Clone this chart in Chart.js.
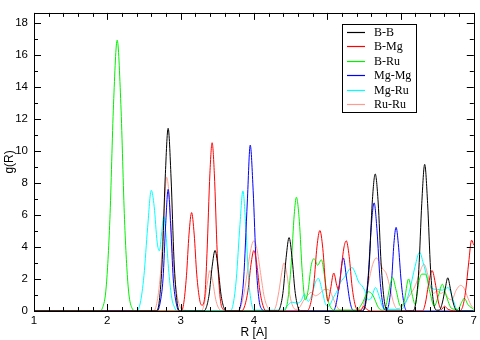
<!DOCTYPE html>
<html>
<head>
<meta charset="utf-8">
<script src="https://cdn.jsdelivr.net/npm/chart.js@4/dist/chart.umd.min.js"></script>
<style>
  html, body { margin: 0; padding: 0; background: #fff; }
  #wrap { width: 480px; height: 340px; }
</style>
</head>
<body>
<div id="wrap"><canvas id="gr" width="480" height="340"></canvas></div>
<script>
// g(R) curves (R in A, g dimensionless)
const bbR = [1.0, 2.67, 2.71, 2.75, 2.79, 2.83, 2.87, 2.91, 2.95, 2.99,
  3.31, 3.35, 3.39, 3.43, 3.47, 3.51, 3.55, 3.59, 3.63,
  4.32, 4.36, 4.40, 4.44, 4.48, 4.52, 4.56, 4.60, 4.64,
  5.48, 5.53, 5.575, 5.615, 5.655, 5.695, 5.735, 5.78, 5.83,
  6.16, 6.21, 6.25, 6.29, 6.33, 6.37, 6.41, 6.45, 6.50,
  6.53, 6.57, 6.61, 6.645, 6.68, 6.72, 6.76, 6.80, 7.0];
const bbG = [0, 0, 0.64, 3.2, 8.3, 11.4, 8.3, 3.2, 0.64, 0,
  0, 0.21, 1.06, 2.76, 3.78, 2.76, 1.06, 0.21, 0,
  0, 0.26, 1.28, 3.34, 4.58, 3.34, 1.28, 0.26, 0,
  0, 0.6, 3.0, 6.8, 8.55, 6.8, 3.0, 0.6, 0,
  0, 0.55, 2.6, 6.7, 9.15, 6.7, 2.6, 0.55, 0.05,
  0.05, 0.5, 1.4, 2.07, 1.4, 0.5, 0.05, 0, 0];

const bmgR = [1.0, 3.0, 3.04, 3.08, 3.115, 3.15, 3.185, 3.22, 3.26, 3.29, 3.33, 3.36, 3.40, 3.43, 3.46, 3.50, 3.54, 3.58, 3.62,
  3.83, 3.87, 3.92, 3.96, 4.0, 4.04, 4.08, 4.13, 4.17,
  4.72, 4.77, 4.82, 4.86, 4.90, 4.94, 4.98, 5.01, 5.04, 5.09, 5.13, 5.155, 5.19, 5.23, 5.26, 5.30, 5.34, 5.38, 5.42, 5.46, 5.50, 5.54, 5.60,
  6.30, 6.34, 6.38, 6.43, 6.48, 6.52, 6.56, 6.60, 6.65, 6.80, 6.85, 6.89, 6.93, 6.97, 7.0];
const bmgG = [0, 0, 0.4, 2.2, 4.8, 6.14, 4.8, 2.3, 0.7, 0.36, 0.9, 3.6, 8.6, 10.5, 8.6, 3.6, 0.8, 0.1, 0,
  0, 0.25, 1.3, 2.9, 3.78, 2.9, 1.3, 0.25, 0,
  0, 0.4, 1.8, 4.0, 5.02, 3.9, 1.5, 0.6, 1.2, 2.37, 1.6, 1.3, 2.6, 4.0, 4.38, 3.4, 1.5, 0.4, 0.05, 0.05, 0.3, 0.1, 0,
  0, 0.5, 1.6, 2.53, 1.6, 0.5, 0.1, 0.3, 0.1, 0, 0.3, 1.3, 3.0, 4.42, 4.1];

const bruR = [1.0, 1.89, 1.935, 1.985, 2.035, 2.085, 2.135, 2.185, 2.235, 2.285, 2.335, 2.39,
  4.40, 4.46, 4.51, 4.55, 4.58, 4.62, 4.66, 4.70, 4.74, 4.78, 4.82, 4.87, 4.92, 4.96, 5.00, 5.05, 5.10,
  5.40, 5.48, 5.56, 5.62, 5.70, 5.75, 5.80, 5.85, 5.89, 5.94, 6.00, 6.05, 6.11, 6.16, 6.20, 6.25, 6.29, 6.34, 6.40, 6.46, 6.52, 6.57, 6.62, 6.70, 6.78, 6.84, 6.87, 6.92, 7.0];
const bruG = [0, 0, 0.2, 1.5, 5.7, 12.9, 16.9, 12.9, 5.7, 1.5, 0.2, 0,
  0, 0.6, 3.0, 6.0, 7.1, 5.6, 2.4, 0.7, 1.3, 2.8, 3.27, 2.85, 3.2, 2.3, 0.9, 0.2, 0.05,
  0.05, 0.5, 1.2, 1.0, 0.2, 0.05, 0.3, 1.4, 2.1, 1.3, 0.3, 0.6, 2.0, 1.0, 0.4, 1.8, 2.3, 2.3, 1.2, 0.3, 1.0, 1.67, 1.0, 0.15, 0.1, 0.6, 0.8, 0.4, 0.1];

const mgmgR = [1.0, 2.68, 2.72, 2.76, 2.795, 2.83, 2.865, 2.90, 2.94, 2.98,
  3.78, 3.82, 3.86, 3.91, 3.95, 3.99, 4.03, 4.07, 4.11, 4.15,
  5.08, 5.12, 5.17, 5.22, 5.265, 5.31, 5.35, 5.40,
  5.48, 5.52, 5.56, 5.60, 5.64, 5.68, 5.72, 5.76, 5.80, 5.84, 5.88, 5.91, 5.94, 5.97, 6.01, 6.05, 6.09, 7.0];
const mgmgG = [0, 0, 0.5, 2.0, 5.3, 7.59, 5.3, 2.0, 0.5, 0,
  0, 0.4, 2.0, 6.8, 10.35, 7.5, 3.0, 0.7, 0.1, 0,
  0, 0.4, 1.8, 3.31, 2.0, 0.6, 0.05, 0,
  0, 0.5, 2.2, 5.2, 6.75, 5.0, 2.0, 0.4, 0.05, 0.4, 2.0, 4.2, 5.22, 4.2, 1.8, 0.4, 0, 0];

const mgruR = [1.0, 2.40, 2.45, 2.50, 2.55, 2.60, 2.64, 2.68, 2.71, 2.74, 2.77, 2.80, 2.84, 2.88, 2.92, 2.95,
  3.68, 3.72, 3.76, 3.81, 3.85, 3.89, 3.93, 3.97, 4.01,
  4.40, 4.45, 4.52, 4.58, 4.64, 4.69, 4.74, 4.79, 4.84, 4.88, 4.93, 4.98, 5.02, 5.08, 5.14, 5.18, 5.25, 5.31, 5.34, 5.38, 5.43, 5.47, 5.51, 5.56, 5.60, 5.66, 5.71, 5.76, 5.80,
  6.00, 6.05, 6.12, 6.20, 6.26, 6.31, 6.37, 6.43, 6.50, 6.57, 6.65, 6.71, 6.77, 6.85, 7.0];
const mgruG = [0, 0, 0.5, 2.2, 5.2, 7.53, 6.5, 4.3, 3.75, 4.8, 5.9, 4.8, 2.4, 0.8, 0.2, 0,
  0, 0.5, 2.0, 5.4, 7.49, 5.2, 1.9, 0.4, 0.05,
  0.05, 0.3, 0.55, 0.5, 0.6, 1.05, 0.6, 1.0, 1.8, 2.03, 1.3, 0.4, 0.3, 0.8, 1.3, 1.77, 2.2, 2.65, 2.71, 2.4, 1.8, 1.6, 1.3, 0.7, 0.8, 1.46, 0.9, 0.2, 0.1,
  0.1, 0.3, 1.2, 2.8, 3.67, 3.0, 2.0, 1.4, 1.35, 1.3, 1.46, 0.8, 0.1, 0, 0];

const ruruR = [1.0, 2.63, 2.68, 2.73, 2.77, 2.81, 2.85, 2.89, 2.94, 2.99, 3.04,
  3.28, 3.32, 3.36, 3.40, 3.44, 3.48, 3.53, 3.58,
  3.78, 3.83, 3.88, 3.93, 3.97, 4.0, 4.04, 4.09, 4.14, 4.19, 4.24,
  4.26, 4.30, 4.34, 4.38, 4.41, 4.45, 4.49, 4.53, 4.57, 4.62, 4.67, 4.72, 4.78, 4.84, 4.90, 4.97, 5.03, 5.08, 5.13, 5.18,
  5.45, 5.50, 5.56, 5.62, 5.67, 5.72, 5.76, 5.80, 5.85, 5.90, 5.95, 6.00, 6.06, 6.11, 6.17, 6.22, 6.27, 6.32, 6.37, 6.41, 6.45, 6.50, 6.55, 6.60, 6.65, 6.70, 6.76, 6.82, 6.87, 6.92, 6.97, 7.0];
const ruruG = [0, 0, 0.6, 2.6, 5.8, 8.35, 6.8, 3.6, 1.3, 0.3, 0.05,
  0, 0.4, 1.6, 2.53, 1.8, 0.7, 0.1, 0,
  0, 0.4, 1.5, 3.1, 4.1, 4.38, 3.9, 2.4, 0.9, 0.2, 0,
  0, 0.3, 1.2, 2.4, 3.0, 2.3, 1.0, 0.3, 0.1, 0.2, 0.6, 0.9, 1.16, 0.95, 1.1, 1.35, 1.3, 0.8, 0.3, 0.05,
  0.05, 0.5, 1.7, 2.9, 3.31, 3.0, 2.6, 2.4, 1.6, 0.6, 0.15, 0.2, 0.5, 0.86, 1.3, 1.8, 2.5, 2.92, 2.3, 1.5, 1.1, 1.25, 1.1, 1.2, 0.8, 0.7, 1.3, 1.6, 1.4, 0.8, 0.3, 0.2];

const seriesNames = ['B-B', 'B-Mg', 'B-Ru', 'Mg-Mg', 'Mg-Ru', 'Ru-Ru'];
const seriesColors = ['#000000', '#ff0000', '#00f000', '#0000ff', '#00ffff', '#ff9c90'];
const seriesR = [bbR, bmgR, bruR, mgmgR, mgruR, ruruR];
const seriesG = [bbG, bmgG, bruG, mgmgG, mgruG, ruruG];

const xTicks = [1, 2, 3, 4, 5, 6, 7];
const yTicks = [0, 2, 4, 6, 8, 10, 12, 14, 16, 18];

const tickFont = { family: '"Liberation Sans", Arial, sans-serif', size: 11.5 };
const titleFont = { family: '"Liberation Sans", Arial, sans-serif', size: 12 };

// grace-style frame with inward major/minor ticks on all sides, plus the boxed legend
const frameTicks = {
  id: 'frameTicks',
  afterDatasetsDraw(chart) {
    const { ctx, chartArea: a, scales: { x, y } } = chart;
    ctx.save();
    ctx.strokeStyle = '#000';
    ctx.lineWidth = 1;
    ctx.beginPath();
    for (let v = 1; v <= 7.0001; v += 0.2) {
      const px = Math.round(x.getPixelForValue(v)) + 0.5;
      const major = Math.abs(v - Math.round(v)) < 0.01;
      const len = major ? 7 : 4;
      ctx.moveTo(px, a.bottom); ctx.lineTo(px, a.bottom - len);
      ctx.moveTo(px, a.top); ctx.lineTo(px, a.top + len);
    }
    for (let v = 0; v <= 18; v += 1) {
      const py = Math.round(y.getPixelForValue(v)) + 0.5;
      const len = v % 2 === 0 ? 7 : 4;
      ctx.moveTo(a.left, py); ctx.lineTo(a.left + len, py);
      ctx.moveTo(a.right, py); ctx.lineTo(a.right - len, py);
    }
    ctx.stroke();
    ctx.strokeRect(Math.round(a.left) + 0.5, Math.round(a.top) + 0.5,
      Math.round(a.right - a.left), Math.round(a.bottom - a.top));

    const bx = 342, by = 24, bw = 74, bh = 88;
    ctx.fillStyle = '#fff';
    ctx.fillRect(bx, by, bw, bh);
    ctx.strokeStyle = '#000';
    ctx.strokeRect(bx + 0.5, by + 0.5, bw, bh);
    ctx.font = '12px "Liberation Serif", "Times New Roman", serif';
    ctx.textBaseline = 'middle';
    for (let i = 0; i < seriesNames.length; i++) {
      const ly = Math.round(by + 8 + i * 14.4) + 0.5;
      ctx.beginPath();
      ctx.strokeStyle = seriesColors[i];
      ctx.lineWidth = 1.2;
      ctx.moveTo(bx + 5, ly);
      ctx.lineTo(bx + 23, ly);
      ctx.stroke();
      ctx.fillStyle = '#000';
      ctx.fillText(seriesNames[i], bx + 32, ly);
    }
    ctx.restore();
  }
};

new Chart(document.getElementById('gr'), {
  type: 'line',
  data: {
    datasets: seriesNames.map((name, i) => ({
      label: name,
      data: seriesR[i].map((r, k) => ({ x: r, y: seriesG[i][k] })),
      borderColor: seriesColors[i],
      borderWidth: 1,
      pointRadius: 0,
      cubicInterpolationMode: 'monotone',
      fill: false,
    })),
  },
  options: {
    responsive: false,
    animation: false,
    layout: { padding: { top: 2, right: 5, left: 0, bottom: 0 } },
    plugins: { legend: { display: false }, tooltip: { enabled: false } },
    scales: {
      x: {
        type: 'linear', min: 1, max: 7,
        grid: { display: false, drawTicks: false },
        border: { display: false },
        afterBuildTicks: s => { s.ticks = xTicks.map(v => ({ value: v })); },
        afterFit: s => { s.height = 29; },
        ticks: { font: tickFont, color: '#000', padding: 3, maxRotation: 0 },
        title: { display: true, text: 'R [A]', font: titleFont, color: '#000', padding: 0 },
      },
      y: {
        type: 'linear', min: 0, max: 18.6,
        grid: { display: false, drawTicks: false },
        border: { display: false },
        afterBuildTicks: s => { s.ticks = yTicks.map(v => ({ value: v })); },
        afterFit: s => { s.width = 34; },
        ticks: { font: tickFont, color: '#000', padding: 6 },
        title: { display: true, text: 'g(R)', font: titleFont, color: '#000', padding: { top: 2, bottom: 0 } },
      },
    },
  },
  plugins: [frameTicks],
});
</script>
</body>
</html>
